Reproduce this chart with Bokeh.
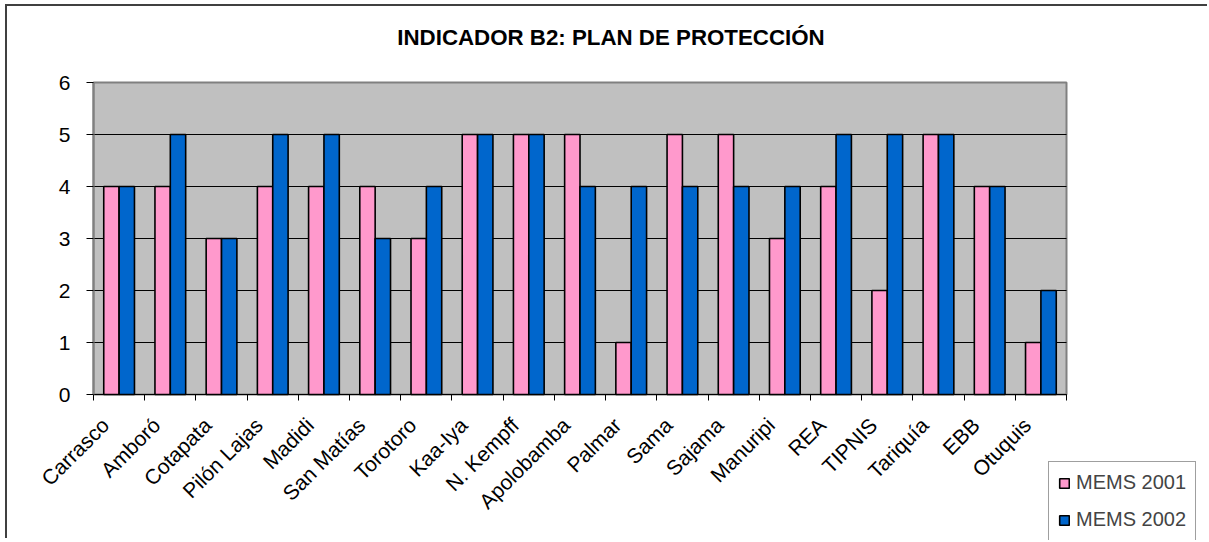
from bokeh.plotting import figure
from bokeh.models import FixedTicker, Legend, LegendItem, ColumnDataSource, Label, Range1d
from bokeh.embed import file_html
from bokeh.resources import INLINE

categories = ["Carrasco", "Amboró", "Cotapata", "Pilón Lajas", "Madidi", "San Matías",
              "Torotoro", "Kaa-Iya", "N. Kempff", "Apolobamba", "Palmar", "Sama",
              "Sajama", "Manuripi", "REA", "TIPNIS", "Tariquía", "EBB", "Otuquis"]
mems_2001 = [4, 4, 3, 4, 4, 4, 3, 5, 5, 5, 1, 5, 5, 3, 4, 2, 5, 4, 1]
mems_2002 = [4, 5, 3, 5, 5, 3, 4, 5, 5, 4, 4, 4, 4, 4, 5, 5, 5, 4, 2]
y_ticks = [0, 1, 2, 3, 4, 5, 6]
title_text = "INDICADOR B2: PLAN DE PROTECCIÓN"
series_names = ["MEMS 2001", "MEMS 2002"]

FONT = "Liberation Sans"
n = len(categories)
ymax = max(y_ticks)
centers = [i + 0.5 for i in range(n)]
bw = 0.30

# Layout in canvas pixels (canvas begins at page (7, 6) after css margin + border).
W, H = 1202, 534
PL, PT = 86, 76          # plot-area left / top inside canvas
PW, PH = 973, 312        # plot-area size
sx_unit = PW / n
sy_unit = PH / ymax
x_start = -PL / sx_unit
x_end = (W - PL) / sx_unit
y_end = ymax + PT / sy_unit
y_start = -(H - PT - PH) / sy_unit

p = figure(width=W, height=H, output_backend="svg", toolbar_location=None,
           x_range=Range1d(x_start, x_end), y_range=Range1d(y_start, y_end), title=None,
           min_border=0, background_fill_color="white", border_fill_color="white")
p.styles = {"margin-left": "5px", "margin-top": "4px",
            "border-top": "2px solid #404040", "border-left": "2px solid #404040"}
p.outline_line_color = None
p.xgrid.visible = False
p.ygrid.visible = False

# plot area background and border
p.quad(left=[0], right=[n], bottom=[0], top=[ymax], fill_color="#C0C0C0",
       line_color="#808080", line_width=2, level="underlay")
# horizontal gridlines at the tick values
grid_vals = [t for t in y_ticks if t < ymax]
p.segment(x0=[0] * len(grid_vals), x1=[n] * len(grid_vals), y0=grid_vals, y1=grid_vals,
          line_color="black", line_width=1, level="underlay")

src = ColumnDataSource(dict(
    x1=[c - bw / 2 for c in centers], x2=[c + bw / 2 for c in centers],
    v1=mems_2001, v2=mems_2002))
r1 = p.vbar(x="x1", top="v1", width=bw, bottom=0, source=src,
            fill_color="#FF99CC", line_color="black", line_width=1.6)
r2 = p.vbar(x="x2", top="v2", width=bw, bottom=0, source=src,
            fill_color="#0066CC", line_color="black", line_width=1.6)

# y axis at x = 0
p.yaxis.fixed_location = 0
p.yaxis.bounds = (0, ymax)
p.yaxis.ticker = FixedTicker(ticks=y_ticks)
p.yaxis.major_tick_out = 7
p.yaxis.major_tick_in = 0
p.yaxis.minor_tick_line_color = None
p.yaxis.axis_line_color = "#808080"
p.yaxis.axis_line_width = 2
p.yaxis.major_tick_line_color = "black"
p.yaxis.major_label_standoff = 16
p.yaxis.major_label_text_font = FONT
p.yaxis.major_label_text_font_size = "21px"
p.yaxis.major_label_text_color = "black"

# x axis at y = 0: labels shifted left of centers, minor ticks at category boundaries
label_pos = [c - 0.27 for c in centers]
p.xaxis.fixed_location = 0
p.xaxis.bounds = (0, n)
p.xaxis.ticker = FixedTicker(ticks=label_pos, minor_ticks=list(range(n + 1)))
p.xaxis.major_label_overrides = {lp: name for lp, name in zip(label_pos, categories)}
p.xaxis.major_tick_out = 0
p.xaxis.major_tick_in = 0
p.xaxis.major_tick_line_color = None
p.xaxis.minor_tick_out = 6
p.xaxis.minor_tick_in = 0
p.xaxis.minor_tick_line_color = "black"
p.xaxis.axis_line_color = "black"
p.xaxis.major_label_orientation = 0.785398
p.xaxis.major_label_standoff = 21
p.xaxis.major_label_text_font = FONT
p.xaxis.major_label_text_font_size = "21px"
p.xaxis.major_label_text_color = "black"

# title
p.add_layout(Label(x=603.5, y=H - 31, x_units="screen", y_units="screen",
                   text=title_text, text_font=FONT, text_font_size="22.3px",
                   text_font_style="bold", text_align="center", text_baseline="middle",
                   text_color="black"))

legend = Legend(items=[LegendItem(label=series_names[0], renderers=[r1]),
                       LegendItem(label=series_names[1], renderers=[r2])],
                location=(1041, -1), orientation="vertical",
                label_text_font=FONT, label_text_font_size="20px",
                glyph_width=12, glyph_height=12, label_standoff=6,
                label_height=23, spacing=14, padding=9, margin=0,
                border_line_color="#404040", border_line_width=1,
                background_fill_color="white", background_fill_alpha=1)
p.add_layout(legend, "center")

open("out.html", "w").write(file_html(p, INLINE))
